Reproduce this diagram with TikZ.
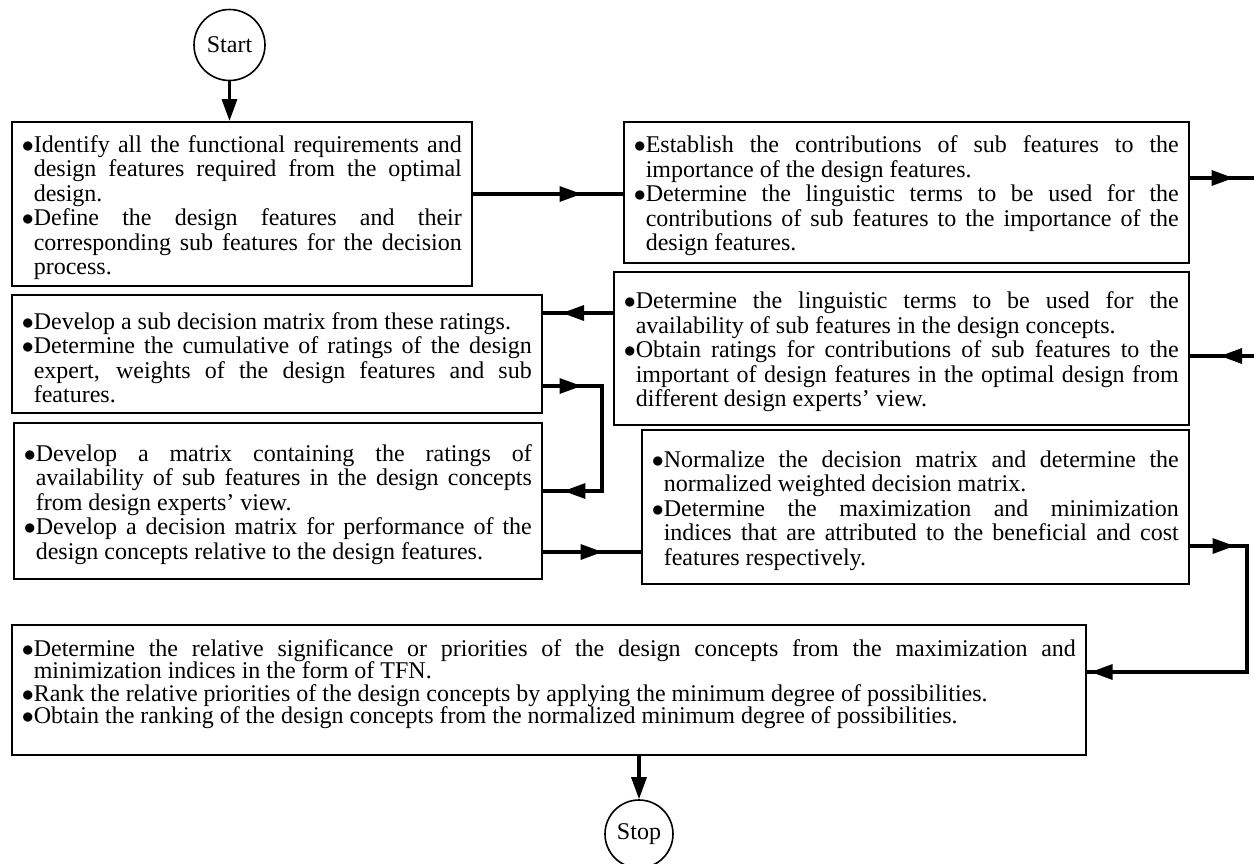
\documentclass[tikz,border=0pt]{standalone}
\usepackage{fontspec}
\setmainfont{Liberation Serif}
\usepackage{tikz}
\usetikzlibrary{arrows.meta}
\usetikzlibrary{decorations.markings}
\newcommand\itm{\par\leftskip=6pt\noindent\hspace*{-6pt}\makebox[6pt][l]{$\bullet$}}

\begin{document}
\begin{tikzpicture}[x=0.5pt, y=-0.5pt,
        txtbox/.style={draw, line width=0.8pt, anchor=north west, inner xsep=5pt, inner ysep=0pt, align=justify, font=\fontsize{12}{12.25}\selectfont},
        term/.style={draw, circle, line width=0.8pt, inner sep=0pt, font=\fontsize{12}{14}\selectfont},
        conn/.style={line width=1.65pt},
        tipat/.style={postaction={decorate}, decoration={markings, mark=at position #1 with {\arrow{Triangle[length=11pt, width=7.5pt]}}}},
        tiptwo/.style 2 args={postaction={decorate}, decoration={markings, mark=at position #1 with {\arrow{Triangle[length=11pt, width=7.5pt]}}, mark=at position #2 with {\arrow{Triangle[length=11pt, width=7.5pt]}}}}]
        \useasboundingbox (0,0) rectangle (1254,863);
        \node[term, minimum size=35.5pt] (start) at (229.5,45) {Start};
        \node[txtbox, minimum width=230pt, minimum height=82pt, text width=220pt] (ident) at (11,121)
            {\itm Identify all the functional requirements and\linebreak design features required from the optimal\linebreak design.
             \itm Define the design features and their\linebreak corresponding sub features for the decision\linebreak process.\par};
        \node[txtbox, minimum width=282.5pt, minimum height=70.5pt, text width=272.5pt] (estab) at (623,121)
            {\itm Establish the contributions of sub features to the\linebreak importance of the design features.
             \itm Determine the linguistic terms to be used for the\linebreak contributions of sub features to the importance of the\linebreak design features.\par};
        \node[txtbox, minimum width=265pt, minimum height=59pt, text width=255pt] (subdm) at (11,294)
            {\itm Develop a sub decision matrix from these ratings.
             \itm Determine the cumulative of ratings of the design\linebreak expert, weights of the design features and sub\linebreak features.\par};
        \node[txtbox, minimum width=287.5pt, minimum height=76.5pt, text width=277.5pt] (ling) at (613,271)
            {\itm Determine the linguistic terms to be used for the\linebreak availability of sub features in the design concepts.
             \itm Obtain ratings for contributions of sub features to the\linebreak important of design features in the optimal design from\linebreak different design experts' view.\par};
        \node[txtbox, minimum width=264pt, minimum height=78pt, text width=254pt] (devmat) at (13,422)
            {\itm Develop a matrix containing the ratings of\linebreak availability of sub features in the design concepts\linebreak from design experts' view.
             \itm Develop a decision matrix for performance of the\linebreak design concepts relative to the design features.\par};
        \node[txtbox, minimum width=273.5pt, minimum height=77pt, text width=263.5pt] (norm) at (641,429)
            {\itm Normalize the decision matrix and determine the\linebreak normalized weighted decision matrix.
             \itm Determine the maximization and minimization\linebreak indices that are attributed to the beneficial and cost\linebreak features respectively.\par};
        \node[txtbox, minimum width=537pt, minimum height=65pt, text width=527pt, font=\fontsize{12}{11.25}\selectfont] (rank) at (11,624)
            {\itm Determine the relative significance or priorities of the design concepts from the maximization and\linebreak minimization indices in the form of TFN.
             \itm Rank the relative priorities of the design concepts by applying the minimum degree of possibilities.
             \itm Obtain the ranking of the design concepts from the normalized minimum degree of possibilities.
             \par\noindent\mbox{}\par};
        \node[term, minimum size=34pt] (stop) at (639,834) {Stop};

        \coordinate (outa) at (1254,178);
        \coordinate (outb) at (1254,356);
        \coordinate (ja) at (602,386);
        \coordinate (jb) at (602,491);
        \coordinate (jc) at (1247,546);
        \coordinate (jd) at (1247,672);
        \draw[conn, -{Triangle[length=11pt, width=7.5pt]}] (start) -- (start |- ident.north);
        \draw[conn, tipat=54.5pt] (ident.east |- 0,194) -- (estab.west |- 0,194);
        \draw[conn, tipat=22pt] (estab.east |- outa) -- (outa);
        \draw[conn, tipat=17pt] (outb) -- (ling.east |- outb);
        \draw[conn, tipat=25.5pt] (ling.west |- 0,313) -- (subdm.east |- 0,313);
        \draw[conn, tiptwo={19.5pt}{101.5pt}] (subdm.east |- ja) -- (ja) -- (jb) -- (devmat.east |- jb);
        \draw[conn, tipat=30pt] (devmat.east |- 0,552) -- (norm.west |- 0,552);
        \draw[conn, tiptwo={22.5pt}{-2pt}] (norm.east |- jc) -- (jc) -- (jd) -- (rank.east |- jd);
        \draw[conn, -{Triangle[length=11pt, width=7.5pt]}] (rank.south -| stop) -- (stop);
    \end{tikzpicture}
\end{document}
